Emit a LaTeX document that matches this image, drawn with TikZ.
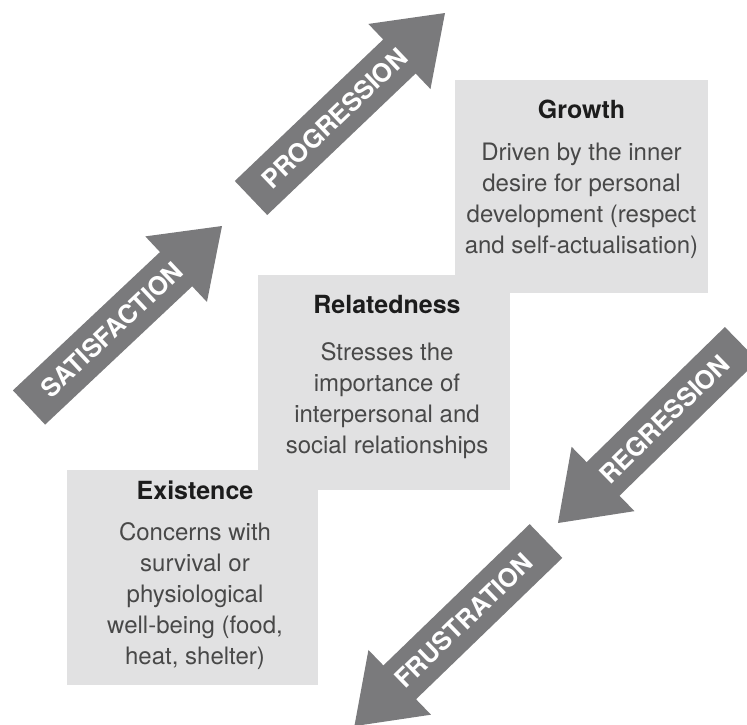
\documentclass[tikz,border=0pt]{standalone}
\usepackage{fontspec}
\setmainfont{TeX Gyre Heros}
\usetikzlibrary{calc,positioning}

\definecolor{boxgrey}{RGB}{225,225,226}
\definecolor{arrowgrey}{RGB}{122,122,124}
\definecolor{bodygrey}{RGB}{72,72,72}
\definecolor{titlegrey}{RGB}{28,28,28}

\tikzstyle{needbox} = [rectangle, inner sep=0pt, fill=boxgrey, draw=none]
\tikzstyle{needtext} = [anchor=north, inner sep=0pt, align=center, text=bodygrey, font=\fontsize{24}{31}\selectfont]
\tikzstyle{bigarrow} = [fill=arrowgrey, draw=none]
\tikzstyle{arrowlabel} = [sloped, inner sep=0pt, text=white, font=\bfseries\fontsize{25.5}{30}\selectfont]

\newcommand{\needtitle}[1]{{\color{titlegrey}\bfseries\fontsize{25}{31}\selectfont #1}}
% fat arrow: tail centre #1, tip #2
\newcommand{\fatarrow}[2]{%
  \coordinate (#1Head) at ($(#2)!63pt!(#1)$);
  \fill[bigarrow] ($(#1)!23.5pt!90:(#2)$) -- ($(#1Head)!23.5pt!90:(#2)$)
    -- ($(#1Head)!45pt!90:(#2)$) -- (#2) -- ($(#1Head)!45pt!-90:(#2)$)
    -- ($(#1Head)!23.5pt!-90:(#2)$) -- ($(#1)!23.5pt!-90:(#2)$) -- cycle;}

\begin{document}
\begin{tikzpicture}[x=1pt, y=-1pt]
\useasboundingbox (0,0) rectangle (747,724);

% the three needs
\node (GrowthBox)[needbox, minimum width=253pt, minimum height=213pt] at (581.5,186.5) {};
\node (RelatedBox)[needbox, minimum width=252pt, minimum height=215pt] at (384,382.5) {};
\node (ExistBox)[needbox, minimum width=251pt, minimum height=215pt] at (192.5,577.5) {};

\node (Growth)[needtext, below=19.6pt of GrowthBox.north]{\needtitle{Growth}\\[11pt]
  Driven by the inner\\desire for personal\\development (respect\\and self-actualisation)};
\node (Related)[needtext, below=20.6pt of RelatedBox.north, xshift=3pt]{\needtitle{Relatedness}\\[16pt]
  Stresses the\\importance of\\interpersonal and\\social relationships};
\node (Exist)[needtext, below=10.6pt of ExistBox.north, xshift=2.5pt]{\needtitle{Existence}\\[10pt]
  Concerns with\\survival or\\physiological\\well-being (food,\\heat, shelter)};

% arrows
\coordinate (SatTail) at (29,407.5);
\coordinate (SatTip) at (222,226);
\coordinate (ProgTail) at (251,198);
\coordinate (ProgTip) at (445,13);
\coordinate (RegTail) at (741.3,343.8);
\coordinate (RegTip) at (558,523);
\coordinate (FrusTail) at (546,541);
\coordinate (FrusTip) at (354.4,726.1);

\fatarrow{SatTail}{SatTip}
\fatarrow{ProgTail}{ProgTip}
\fatarrow{RegTail}{RegTip}
\fatarrow{FrusTail}{FrusTip}

\path (SatTail) -- (SatTip) node[arrowlabel, pos=0.43] (SatLabel) {SATISFACTION};
\path (ProgTail) -- (ProgTip) node[arrowlabel, pos=0.43] (ProgLabel) {PROGRESSION};
\path (RegTail) -- (RegTip) node[arrowlabel, pos=0.42] (RegLabel) {REGRESSION};
\path (FrusTail) -- (FrusTip) node[arrowlabel, pos=0.43] (FrusLabel) {FRUSTRATION};
\end{tikzpicture}
\end{document}
